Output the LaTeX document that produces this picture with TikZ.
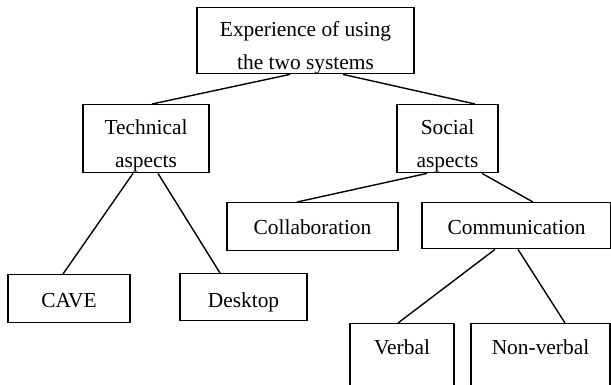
\documentclass[tikz,border=0pt]{standalone}
\usepackage{fontspec}
\setmainfont{Liberation Serif}
\begin{document}
\begin{tikzpicture}[x=1pt,y=-1pt,
  treebox/.style={draw,line width=1.4pt,inner sep=0pt,anchor=north,align=center,
    font=\fontsize{21.4}{33}\selectfont},
  link/.style={line width=1.4pt}]
\clip (0,0) rectangle (611,384);

% boxes (anchored at their top edge)
\node[treebox,minimum width=217pt,text height=62pt,text depth=4pt] (root) at (305.5,7) {Experience of using\\the two systems};
\node[treebox,minimum width=126pt,text height=63pt,text depth=5pt] (tech) at (146,104) {Technical\\aspects};
\node[treebox,minimum width=101pt,text height=63pt,text depth=5pt] (social) at (447.5,104) {Social\\aspects};
\node[treebox,minimum width=171pt,text height=32pt,text depth=16pt] (collab) at (312.5,202) {Collaboration};
\node[treebox,minimum width=189pt,text height=32pt,text depth=14pt] (comm) at (516.5,202) {Communication};
\node[treebox,minimum width=122pt,text height=33pt,text depth=15pt] (cave) at (69,274) {CAVE};
\node[treebox,minimum width=127pt,text height=34pt,text depth=13pt] (desktop) at (243.5,273) {Desktop};
\node[treebox,minimum width=104pt,text height=31pt,text depth=41pt] (verbal) at (402,323) {Verbal};
\node[treebox,minimum width=139pt,text height=31pt,text depth=41pt] (nonverbal) at (540.5,323) {Non-verbal};

% connectors
\draw[link] ([xshift=-15.5pt]root.south) -- ([xshift=6pt]tech.north);
\draw[link] ([xshift=37.5pt]root.south) -- ([xshift=27.5pt]social.north);
\draw[link] ([xshift=-13pt]tech.south) -- ([xshift=-6pt]cave.north);
\draw[link] ([xshift=12pt]tech.south) -- ([xshift=-23.5pt]desktop.north);
\draw[link] ([xshift=-20.5pt]social.south) -- ([xshift=-15.5pt]collab.north);
\draw[link] ([xshift=34.5pt]social.south) -- ([xshift=16.5pt]comm.north);
\draw[link] ([xshift=-21.5pt]comm.south) -- ([xshift=-4pt]verbal.north);
\draw[link] ([xshift=1.5pt]comm.south) -- ([xshift=24.5pt]nonverbal.north);
\end{tikzpicture}
\end{document}
